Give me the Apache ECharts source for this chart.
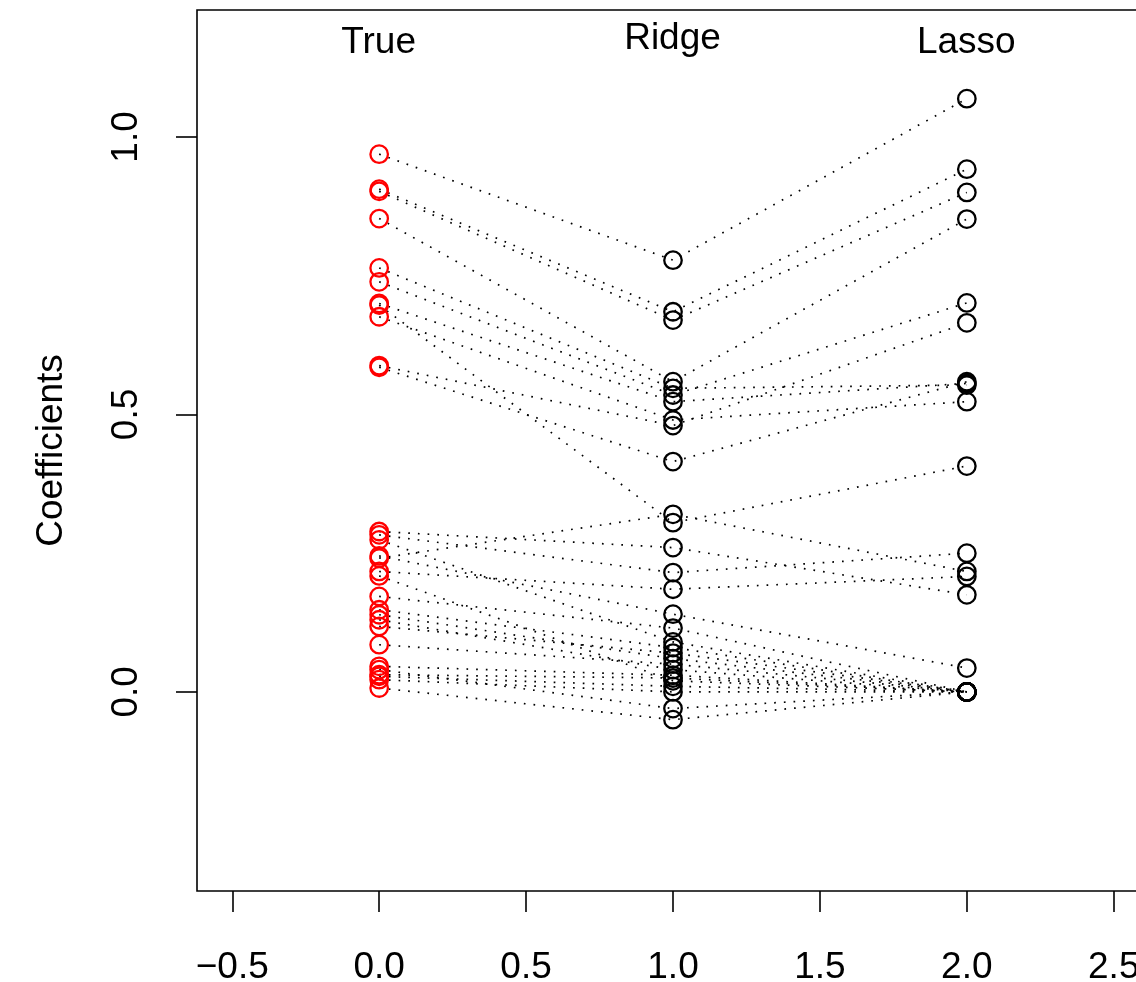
<!DOCTYPE html>
<html>
<head>
<meta charset="utf-8">
<script src="https://cdn.jsdelivr.net/npm/echarts@6/dist/echarts.min.js"></script>
<style>
html,body{margin:0;padding:0;background:#fff;}
#chart{width:1136px;height:982px;}
</style>
</head>
<body>
<div id="chart"></div>
<script>
// Column labels and their x positions
const methodNames = ['True', 'Ridge', 'Lasso'];
const methodX = [0, 1, 2];
const methodLabelY = [1.168, 1.176, 1.168];

// Coefficient values (one entry per coefficient, same order in each array)
const trueCoef = [
  0.969, 0.906, 0.902, 0.853, 0.764, 0.739, 0.697, 0.676, 0.588, 0.585, 0.700,
  0.289, 0.283, 0.274, 0.245, 0.241, 0.217, 0.209, 0.172, 0.148, 0.139,
  0.130, 0.118, 0.085, 0.046, 0.040, 0.031, 0.028, 0.022, 0.007
];
const ridgeCoef = [
  0.778, 0.685, 0.670, 0.559, 0.547, 0.535, 0.305, 0.490, 0.480, 0.415, 0.523,
  0.260, 0.215, 0.090, 0.140, 0.320, 0.185, 0.020, 0.115, 0.080, 0.060,
  0.040, 0.070, 0.050, 0.030, -0.030, 0.025, 0.010, 0.000, -0.050
];
const lassoCoef = [
  1.069, 0.942, 0.900, 0.852, 0.553, 0.701, 0.407, 0.523, 0.665, 0.559, 0.556,
  0.175, 0.250, 0.000, 0.043, 0.217, 0.208, 0.000, 0.000, 0.000, 0.000,
  0.000, 0.000, 0.000, 0.000, 0.000, 0.000, 0.000, 0.000, 0.000
];

// Axis tick values
const xTicks = [-0.5, 0, 0.5, 1, 1.5, 2, 2.5];
const yTicks = [0, 0.5, 1];
const xRange = [-0.62, 2.62];
const yRange = [-0.3588, 1.2288];

const FONT = "'Liberation Sans', Arial, Helvetica, sans-serif";
const fmt = v => (v < 0 ? '\u2212' : '') + Math.abs(v).toFixed(1);

const series = [];
for (let i = 0; i < trueCoef.length; i++) {
  series.push({
    type: 'line',
    data: [[methodX[0], trueCoef[i]], [methodX[1], ridgeCoef[i]], [methodX[2], lassoCoef[i]]],
    symbol: 'none',
    showSymbol: false,
    silent: true,
    z: 1,
    lineStyle: { color: '#000', width: 1.7, type: [1.7, 8], cap: 'butt' },
    animation: false
  });
}
const circle = (vals, x, color) => ({
  type: 'scatter',
  data: vals.map(v => [x, v]),
  symbol: 'circle',
  symbolSize: 17.5,
  z: 3,
  silent: true,
  animation: false,
  itemStyle: { color: 'rgba(0,0,0,0)', borderColor: color, borderWidth: 2.3, opacity: 1 }
});
series.push(circle(trueCoef, methodX[0], '#ff0000'));
series.push(circle(ridgeCoef, methodX[1], '#000000'));
series.push(circle(lassoCoef, methodX[2], '#000000'));
series.push({
  type: 'scatter',
  data: methodNames.map((n, i) => [methodX[i], methodLabelY[i], n]),
  symbolSize: 1,
  itemStyle: { color: 'rgba(0,0,0,0)' },
  silent: true,
  animation: false,
  z: 4,
  label: {
    show: true, position: [0, 0], align: 'center', verticalAlign: 'middle',
    formatter: p => p.data[2],
    fontSize: 37, color: '#000000', opacity: 1, fontFamily: FONT
  }
});

const chart = echarts.init(document.getElementById('chart'), null, { renderer: 'canvas' });
chart.setOption({
  animation: false,
  backgroundColor: '#fff',
  textStyle: { fontFamily: FONT, color: '#000' },
  grid: {
    left: 197, top: 10, right: -13, bottom: 91, containLabel: false, outerBoundsMode: 'none',
    show: true, borderColor: '#000', borderWidth: 1.6, backgroundColor: 'rgba(0,0,0,0)'
  },
  xAxis: {
    type: 'value', min: xRange[0], max: xRange[1],
    axisLine: { show: false, onZero: false },
    splitLine: { show: false },
    axisTick: { show: true, customValues: xTicks, length: 21, lineStyle: { color: '#000', width: 1.6 } },
    axisLabel: { customValues: xTicks, formatter: fmt, fontSize: 37, color: '#000', margin: 58, fontFamily: FONT }
  },
  yAxis: {
    type: 'value', min: yRange[0], max: yRange[1],
    name: 'Coefficients', nameLocation: 'middle', nameRotate: 90, nameGap: 127,
    nameTextStyle: { fontSize: 37, color: '#000', fontFamily: FONT },
    axisLine: { show: false, onZero: false },
    splitLine: { show: false },
    axisTick: { show: true, customValues: yTicks, length: 21, lineStyle: { color: '#000', width: 1.6 } },
    axisLabel: { customValues: yTicks, formatter: v => v.toFixed(1), rotate: 90, fontSize: 37, color: '#000', margin: 52, fontFamily: FONT }
  },
  series: series
});
</script>
</body>
</html>
